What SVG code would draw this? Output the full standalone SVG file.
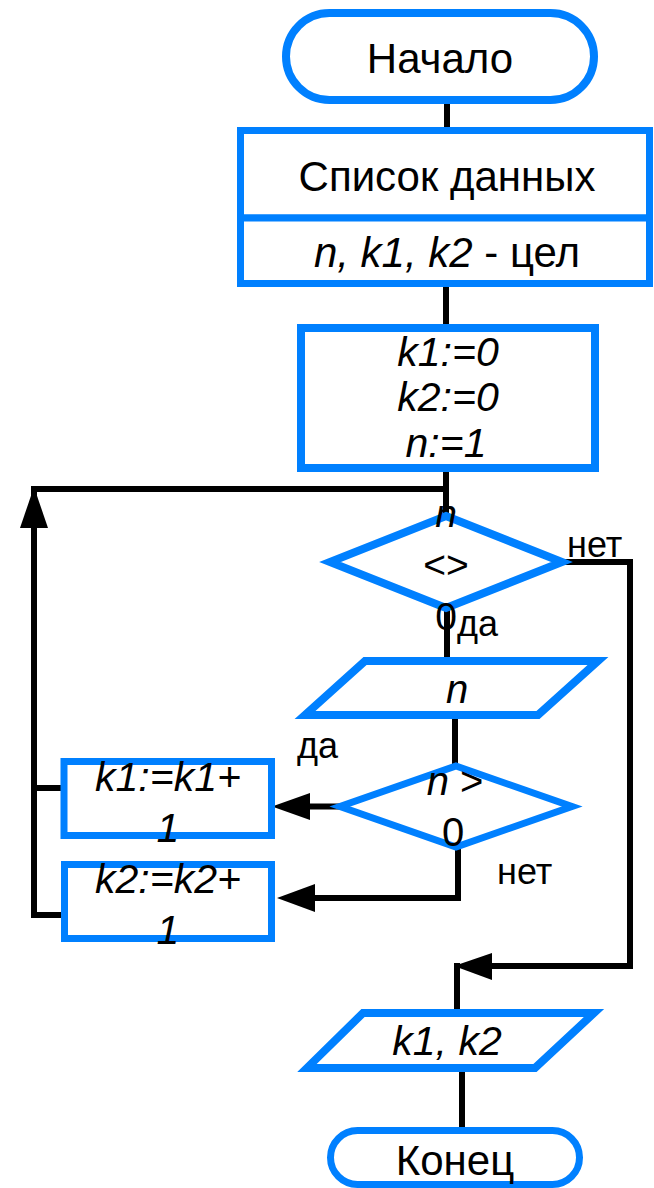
<svg xmlns="http://www.w3.org/2000/svg" width="654" height="1188" viewBox="0 0 654 1188">
<style>
.shape{fill:#fff;stroke:#0080ff;stroke-width:8}
.thin{stroke-width:7}
.t{font-family:"Liberation Sans",Arial,sans-serif;fill:#000;text-anchor:middle}
.i{font-style:italic}
.lbl{font-family:"Liberation Sans",Arial,sans-serif;fill:#000;font-size:36px}
.c{fill:none;stroke:#000;stroke-width:6}
.ah{fill:#000}
</style>
<rect width="654" height="1188" fill="#fff"/>
<g id="connectors">
<path class="c" d="M447 104V127"/>
<path class="c" d="M446 287V324"/>
<path class="c" d="M446 471V514"/>
<path class="c" d="M446 489H34V915H63"/>
<path class="c" d="M34 788H63"/>
<path class="c" d="M447 606V657"/>
<path class="c" d="M455 719V764"/>
<path class="c" d="M340 806.5H305"/>
<path class="c" d="M458 845V898H310"/>
<path class="c" d="M562 562H630V966H488"/>
<path class="c" d="M457 963V1010"/>
<path class="c" d="M462 1070V1128"/>
<polygon class="ah" points="34,487 20,528 48,528"/>
<polygon class="ah" points="272,806.5 310,793 310,820"/>
<polygon class="ah" points="277,898 315,884 315,912"/>
<polygon class="ah" points="454,966 492,953 492,980"/>
</g>
<g id="start">
<rect class="shape" x="286" y="13" width="308" height="87" rx="43.5"/>
<text class="t" x="440" y="73" font-size="42">Начало</text>
</g>
<g id="data">
<rect class="shape thin" x="240.5" y="130.5" width="409" height="87.5"/>
<rect class="shape thin" x="240.5" y="218" width="409" height="65.5"/>
<text class="t" x="447" y="191" font-size="42">Список данных</text>
<text class="t" x="447" y="267" font-size="42"><tspan class="i">n, k1, k2</tspan> - цел</text>
</g>
<g id="init">
<rect class="shape" x="301" y="328" width="294" height="140"/>
<text class="t i" x="448" y="366" font-size="41">k1:=0</text>
<text class="t i" x="448" y="411" font-size="41">k2:=0</text>
<text class="t i" x="446" y="457" font-size="41">n:=1</text>
</g>
<g id="cond1">
<polygon class="shape" points="446,516 562,562 446,608 330,562"/>
<text class="t" x="446" y="527" font-size="39"><tspan class="i">n</tspan></text>
<text class="t" x="446" y="578" font-size="39">&lt;&gt;</text>
<text class="t" x="446" y="630" font-size="39">0</text>
<text class="lbl" x="567" y="557">нет</text>
<text class="lbl" x="457" y="636">да</text>
</g>
<g id="input">
<polygon class="shape" points="365,661 598,661 538,715 305,715"/>
<text class="t i" x="457" y="703" font-size="40">n</text>
</g>
<g id="cond2">
<polygon class="shape thin" points="456,766 572,806.5 456,847 340,806.5"/>
<text class="t" x="455" y="795" font-size="40"><tspan class="i">n</tspan> &gt;</text>
<text class="t" x="453" y="846" font-size="40">0</text>
<text class="lbl" x="297" y="758">да</text>
<text class="lbl" x="497" y="884">нет</text>
</g>
<g id="inc1">
<rect class="shape thin" x="64" y="761.5" width="207.5" height="74"/>
<text class="t i" x="168" y="791" font-size="41">k1:=k1+</text>
<text class="t i" x="168" y="842" font-size="41">1</text>
</g>
<g id="inc2">
<rect class="shape thin" x="64.5" y="864.5" width="207" height="74"/>
<text class="t i" x="168" y="893" font-size="41">k2:=k2+</text>
<text class="t i" x="168" y="944" font-size="41">1</text>
</g>
<g id="output">
<polygon class="shape" points="363,1013 594,1013 535,1068 307,1068"/>
<text class="t i" x="447" y="1055" font-size="41">k1, k2</text>
</g>
<g id="end">
<rect class="shape thin" x="330.5" y="1130.5" width="249" height="54" rx="27"/>
<text class="t" x="455" y="1175" font-size="42">Конец</text>
</g>
</svg>
